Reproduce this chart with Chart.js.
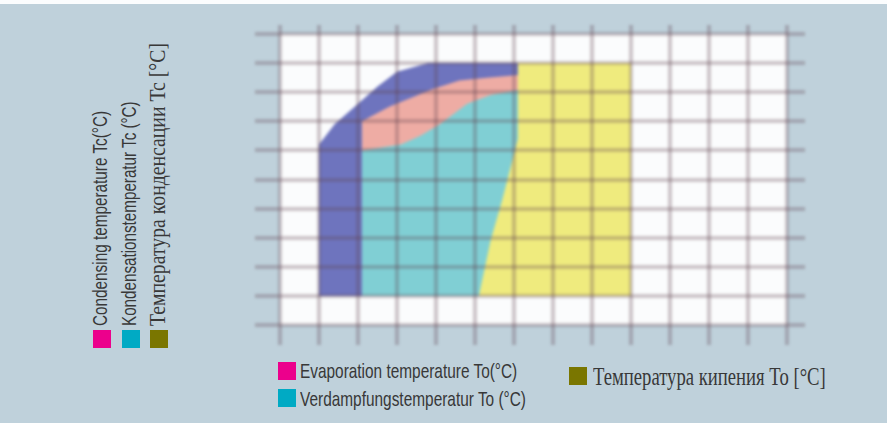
<!DOCTYPE html>
<html>
<head>
<meta charset="utf-8">
<script src="https://cdn.jsdelivr.net/npm/chart.js@4.4.0/dist/chart.umd.min.js"></script>
<style>
  html, body { margin: 0; padding: 0; }
  body {
    width: 887px; height: 423px; position: relative; overflow: hidden;
    background: #bfd1db;
    font-family: "Liberation Sans Narrow", "Liberation Sans", sans-serif;
    color: #383838;
  }
  .topband { position: absolute; left: 0; top: 0; width: 887px; height: 4px; background: #fbfdfe; }
  #wrap { position: absolute; left: 255px; top: 25px; width: 550px; height: 320px; }
  #wrap canvas { filter: blur(1.8px); }
  .sw { position: absolute; width: 18px; height: 18px; }
  .lbl { position: absolute; white-space: nowrap; line-height: 1; transform-origin: 0 0; }
  .sans { font-size: 20px; }
  .serif { font-family: "Liberation Serif", "DejaVu Serif", serif; }
</style>
</head>
<body>
<div class="topband"></div>
<div id="wrap"><canvas id="env" width="550" height="320"></canvas></div>

<!-- condensing temperature legend (vertical) -->
<div class="lbl sans" data-rot="1" data-w="215" style="left:90px;top:326px;">Condensing temperature Tc(°C)</div>
<div class="lbl sans" data-rot="1" data-w="225" style="left:119px;top:326px;">Kondensationstemperatur Tc (°C)</div>
<div class="lbl serif" data-rot="1" data-w="283" style="left:146px;top:326px;font-size:23px;">Температура конденсации Tc [°C]</div>
<div class="sw" style="left:93px;top:330px;background:#ec008c;"></div>
<div class="sw" style="left:122px;top:330px;background:#00aac4;"></div>
<div class="sw" style="left:150px;top:330px;background:#7a7600;"></div>

<!-- evaporation temperature legend -->
<div class="sw" style="left:278px;top:362px;background:#ec008c;"></div>
<div class="sw" style="left:278px;top:389px;background:#00aac4;"></div>
<div class="lbl" data-w="217" style="left:300px;top:360px;font-size:21px;">Evaporation temperature To(°C)</div>
<div class="lbl" data-w="226" style="left:300px;top:388px;font-size:21px;">Verdampfungstemperatur To (°C)</div>
<div class="sw" style="left:569px;top:367px;background:#7a7600;"></div>
<div class="lbl serif" data-w="233" style="left:593px;top:364px;font-size:25px;">Температура кипения To [°C]</div>

<script>
// Axis ranges: evaporation To (°C) horizontally, condensing Tc (°C) vertically
const evapRange = [-50, 15];
const condRange = [10, 60];
const gridStep = 5;
const envelopeBase = 15;

// Operating envelopes, outline points (To, Tc)
const blueTo   = [-45, -45, -43, -40, -37.5, -35, -31, -19, -19];
const blueTc   = [15, 41, 44.5, 48, 51, 53.5, 55, 55, 15];
const pinkTo   = [-39.5, -39.5, -36, -30.5, -27, -23.5, -19, -19];
const pinkTc   = [15, 45, 47.5, 50.5, 52, 52.5, 53, 15];
const cyanTo   = [-39.5, -39.5, -34.5, -32, -29.5, -26, -23, -19, -19];
const cyanTc   = [15, 40, 41, 42.5, 44.5, 48, 49.5, 50.5, 15];
const yellowTo = [-24.5, -23, -21.5, -19.5, -19.5, -5, -5];
const yellowTc = [15, 24.5, 31.5, 42, 55, 55, 15];

const pts = (xs, ys) => xs.map((x, i) => ({ x: x, y: ys[i] }));

function region(xs, ys, color, order) {
  return {
    data: pts(xs, ys),
    backgroundColor: color,
    borderWidth: 0,
    pointRadius: 0,
    tension: 0,
    fill: { value: envelopeBase },
    order: order
  };
}

const gridColor = 'rgba(95,65,80,0.30)';

const plotBg = {
  id: 'plotBg',
  beforeDraw(chart) {
    const a = chart.chartArea, c = chart.ctx;
    c.save();
    c.fillStyle = '#fbfcfd';
    c.fillRect(a.left, a.top, a.right - a.left, a.bottom - a.top);
    c.restore();
  }
};

function axis(pos, range, tick, onArea) {
  return {
    type: 'linear', position: pos, min: range[0], max: range[1],
    ticks: { display: false, stepSize: gridStep },
    border: { display: false },
    grid: { color: gridColor, lineWidth: 4, tickLength: tick, drawOnChartArea: onArea, z: 1 }
  };
}

new Chart(document.getElementById('env'), {
  type: 'line',
  data: {
    datasets: [
      region(yellowTo, yellowTc, '#efeb7e', 1),
      region(cyanTo, cyanTc, '#80cfd4', 2),
      region(pinkTo, pinkTc, '#eeaca4', 3),
      region(blueTo, blueTc, '#6e74be', 4)
    ]
  },
  options: {
    responsive: false,
    animation: false,
    devicePixelRatio: 1,
    layout: { padding: 0 },
    plugins: { legend: { display: false }, tooltip: { enabled: false } },
    scales: {
      x: axis('bottom', evapRange, 20, true),
      y: axis('left', condRange, 25, true),
      x2: axis('top', evapRange, 9, false),
      y2: axis('right', condRange, 18, false)
    }
  },
  plugins: [plotBg]
});

// squeeze each label to its column / line length
document.querySelectorAll('.lbl').forEach(el => {
  const k = (+el.dataset.w) / el.offsetWidth;
  el.style.transform = (el.dataset.rot ? 'rotate(-90deg) ' : '') + 'scaleX(' + k + ')';
});
</script>
</body>
</html>
